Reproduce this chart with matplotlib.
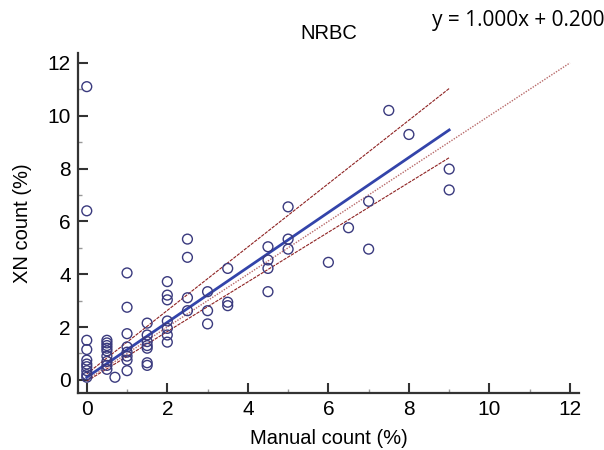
import matplotlib
matplotlib.use("Agg")
import matplotlib.pyplot as plt
import numpy as np
from matplotlib.ticker import MultipleLocator

plt.rcParams['font.family'] = ['Liberation Sans', 'DejaVu Sans']

# manual count (x) vs XN count (y)
manual = [0, 0, 0, 0, 0, 0, 0, 0, 0, 0,
          0.5, 0.5, 0.5, 0.5, 0.5, 0.5, 0.5, 0.5, 0.5,
          0.7,
          1, 1, 1, 1, 1, 1, 1, 1,
          1.5, 1.5, 1.5, 1.5, 1.5, 1.5, 1.5,
          2, 2, 2, 2, 2, 2, 2,
          2.5, 2.5, 2.5, 2.5,
          3, 3, 3,
          3.5, 3.5, 3.5,
          4.5, 4.5, 4.5, 4.5,
          5, 5, 5,
          6, 6.5, 7, 7, 7.5, 8, 9, 9]
xn = [11.1, 6.4, 1.5, 1.15, 0.75, 0.6, 0.5, 0.35, 0.2, 0.1,
      1.5, 1.4, 1.3, 1.2, 1.1, 0.9, 0.7, 0.55, 0.4,
      0.1,
      4.05, 2.75, 1.75, 1.25, 1.05, 0.9, 0.75, 0.35,
      2.15, 1.7, 1.45, 1.3, 1.2, 0.65, 0.55,
      3.72, 3.21, 3.03, 2.23, 1.95, 1.7, 1.43,
      5.33, 4.64, 3.11, 2.62,
      3.34, 2.62, 2.12,
      4.22, 2.94, 2.81,
      5.04, 4.54, 4.22, 3.34,
      6.55, 5.33, 4.95,
      4.45, 5.76, 6.76, 4.95, 10.2, 9.29, 7.98, 7.19]

# regression line and its confidence bounds (intercept, slope), range 0..9
fit_range = [0, 9]
fit_line = (0.10, 1.04)
upper_ci = (0.23, 1.20)
lower_ci = (-0.05, 0.94)
identity_range = [0, 12]

fig = plt.figure(figsize=(6.04, 4.5), dpi=100)
ax = fig.add_axes([0.129, 0.127, 0.830, 0.755])

xr = np.array(fit_range, dtype=float)
ax.plot(identity_range, identity_range, linestyle=(0, (1, 1)), color='#b86a6a',
        lw=1.0, clip_on=False, zorder=2)
ax.plot(xr, upper_ci[0] + upper_ci[1] * xr, linestyle=(0, (3, 1)),
        color='#8e2222', lw=0.8, zorder=2)
ax.plot(xr, lower_ci[0] + lower_ci[1] * xr, linestyle=(0, (3, 1)),
        color='#8e2222', lw=0.8, zorder=2)
ax.plot(xr, fit_line[0] + fit_line[1] * xr, color='#3344aa', lw=2.0, zorder=3)

ax.scatter(manual, xn, s=50, facecolors='none', edgecolors='#3a3a7e',
           linewidths=1.0, zorder=4, clip_on=False)

ax.set_xlim(-0.22, 12.23)
ax.set_ylim(-0.49, 12.37)
ax.xaxis.set_major_locator(MultipleLocator(2))
ax.xaxis.set_minor_locator(MultipleLocator(1))
ax.yaxis.set_major_locator(MultipleLocator(2))
ax.yaxis.set_minor_locator(MultipleLocator(1))

for side in ['top', 'right']:
    ax.spines[side].set_visible(False)
for side in ['left', 'bottom']:
    ax.spines[side].set_color('#333333')
    ax.spines[side].set_linewidth(1.6)

ax.tick_params(which='major', direction='in', length=7, width=1.5,
               color='#333333', labelsize=15, pad=5)
ax.tick_params(which='minor', direction='in', length=3, width=1.0,
               color='#999999')

ax.set_xlabel('Manual count (%)', fontsize=14.5, labelpad=7)
ax.set_ylabel('XN count (%)', fontsize=14.5, labelpad=11)
ax.set_title('NRBC', fontsize=14.5, pad=10)

fig.text(0.858, 0.955, 'y = 1.000x + 0.200', fontsize=15, ha='center',
         va='center', family=['Open Sans', 'DejaVu Sans'])

fig.savefig('out.png', dpi=100)
